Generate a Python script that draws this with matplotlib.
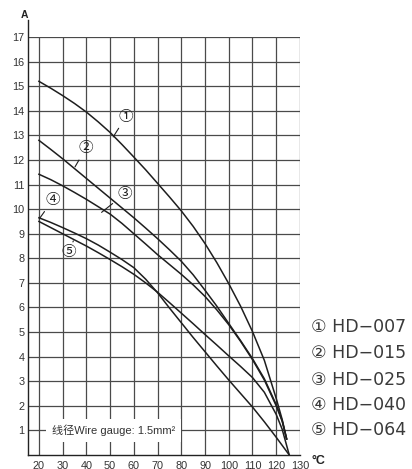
import matplotlib
matplotlib.use("Agg")
import matplotlib.pyplot as plt

plt.rcParams['font.family'] = ['Liberation Sans', 'Noto Sans CJK SC', 'DejaVu Sans']

# current (A) against ambient temperature (°C) for each model
t1 = [20, 25, 30, 35, 40, 45, 50, 55, 60, 65, 70, 75, 80, 85, 90, 95, 100,
      105, 110, 115, 120, 122.5, 124.4]
a1 = [15.2, 14.92, 14.62, 14.3, 13.95, 13.55, 13.12, 12.63, 12.12, 11.6,
      11.05, 10.5, 9.93, 9.3, 8.6, 7.82, 6.97, 6.05, 5.02, 3.85, 2.3, 1.45, 0.65]

t2 = [20, 25, 30, 35, 40, 45, 50, 55, 60, 65, 70, 75, 80, 85, 90, 95, 100,
      105, 110, 115, 120, 122.5, 124.4]
a2 = [12.8, 12.43, 12.05, 11.65, 11.25, 10.85, 10.45, 10.05, 9.65, 9.23,
      8.8, 8.35, 7.88, 7.33, 6.7, 6.05, 5.35, 4.65, 3.92, 3.1, 2.05, 1.4, 0.65]

t3 = [20, 25, 30, 35, 40, 45, 50, 55, 60, 65, 70, 75, 80, 85, 90, 95, 100,
      105, 110, 115, 120, 122.5, 124.4]
a3 = [11.42, 11.2, 10.95, 10.68, 10.4, 10.1, 9.8, 9.42, 9.0, 8.58, 8.15,
      7.75, 7.35, 6.92, 6.45, 5.9, 5.3, 4.62, 3.88, 3.05, 2.0, 1.38, 0.65]

t4 = [20, 25, 30, 35, 40, 45, 50, 55, 60, 65, 70, 75, 80, 85, 90, 95, 100,
      105, 110, 115, 120, 125.5]
a4 = [9.65, 9.46, 9.25, 9.03, 8.8, 8.54, 8.25, 7.95, 7.62, 7.15, 6.6, 5.98,
      5.38, 4.78, 4.2, 3.62, 3.05, 2.5, 1.95, 1.35, 0.72, 0.0]

t5 = [20, 25, 30, 35, 40, 45, 50, 55, 60, 65, 70, 75, 80, 85, 90, 95, 100,
      105, 110, 115, 120, 122.5, 125.5]
a5 = [9.5, 9.25, 9.0, 8.75, 8.5, 8.23, 7.95, 7.66, 7.35, 7.0, 6.62, 6.2,
      5.77, 5.34, 4.9, 4.47, 4.03, 3.6, 3.15, 2.55, 1.65, 1.05, 0.0]

marks = ['①', '②', '③', '④', '⑤']
models = ['HD−007', 'HD−015', 'HD−025', 'HD−040', 'HD−064']

# where each circled number sits and the curve point its leader touches
mark_pos = [(56.7, 13.76), (39.7, 12.47), (56.0, 10.61), (25.8, 10.37), (32.8, 8.27)]
mark_tip = [(51.3, 12.94), (35.2, 11.72), (46.4, 9.87), (20.1, 9.6), (34.5, 8.71)]

xticks = list(range(20, 131, 10))
yticks = list(range(1, 18))

fig = plt.figure(figsize=(4.12, 4.69), dpi=100)
ax = fig.add_axes([0.068, 0.0299, 0.660, 0.891])
ax.set_xlim(15.4, 130)
ax.set_ylim(0, 17)

for x in xticks:
    ax.axvline(x, color='#4a4a4a', lw=0.9, zorder=1)
for y in yticks:
    ax.axhline(y, color='#4a4a4a', lw=0.9, zorder=1)

for t, a in [(t1, a1), (t2, a2), (t3, a3), (t4, a4), (t5, a5)]:
    ax.plot(t, a, color='#1e1e1e', lw=1.1, zorder=4, solid_joinstyle='round')

for m, pos, tip in zip(marks, mark_pos, mark_tip):
    ax.annotate(m, xy=tip, xytext=pos, ha='center', va='center',
                fontsize=10.5, color='#1e1e1e', zorder=5,
                family=['Noto Sans CJK SC', 'DejaVu Sans'],
                arrowprops=dict(arrowstyle='-', lw=0.8, color='#1e1e1e',
                                shrinkA=1.5, shrinkB=0))

ax.text(25.5, 1, '线径Wire gauge: 1.5mm²', ha='left', va='center',
        fontsize=8, color='#333333', zorder=3,
        family=['Liberation Sans', 'Noto Sans CJK SC'],
        bbox=dict(boxstyle='square,pad=0.5', fc='white', ec='none'))

ax.set_xticks(xticks)
ax.set_yticks(yticks)
ax.tick_params(length=0, labelsize=7.8, labelcolor='#333333')
ax.tick_params(axis='y', pad=2.5)
ax.tick_params(axis='x', pad=4)

for s in ['top', 'right', 'left']:
    ax.spines[s].set_visible(False)
ax.spines['bottom'].set_color('#222222')
ax.spines['bottom'].set_linewidth(1.0)
ax.plot([0, 0], [0, 1.04], transform=ax.transAxes, color='#222222',
        lw=1.0, clip_on=False, zorder=6)

fig.text(24 / 412, 1 - 15 / 469, 'A', ha='center', va='center',
         fontsize=7.5, fontweight='bold', color='#222222')
fig.text(318 / 412, 1 - 461 / 469, '°C', ha='center', va='center',
         fontsize=9, fontweight='bold', color='#222222')

rows = [327, 353, 380, 405, 430]
for m, name, py in zip(marks, models, rows):
    fig.text(311 / 412, 1 - py / 469, m + ' ' + name, ha='left', va='center',
             fontsize=12.5, color='#3a3a3a',
             family=['DejaVu Sans', 'Noto Sans CJK SC'])

fig.savefig('out.png', dpi=100)
